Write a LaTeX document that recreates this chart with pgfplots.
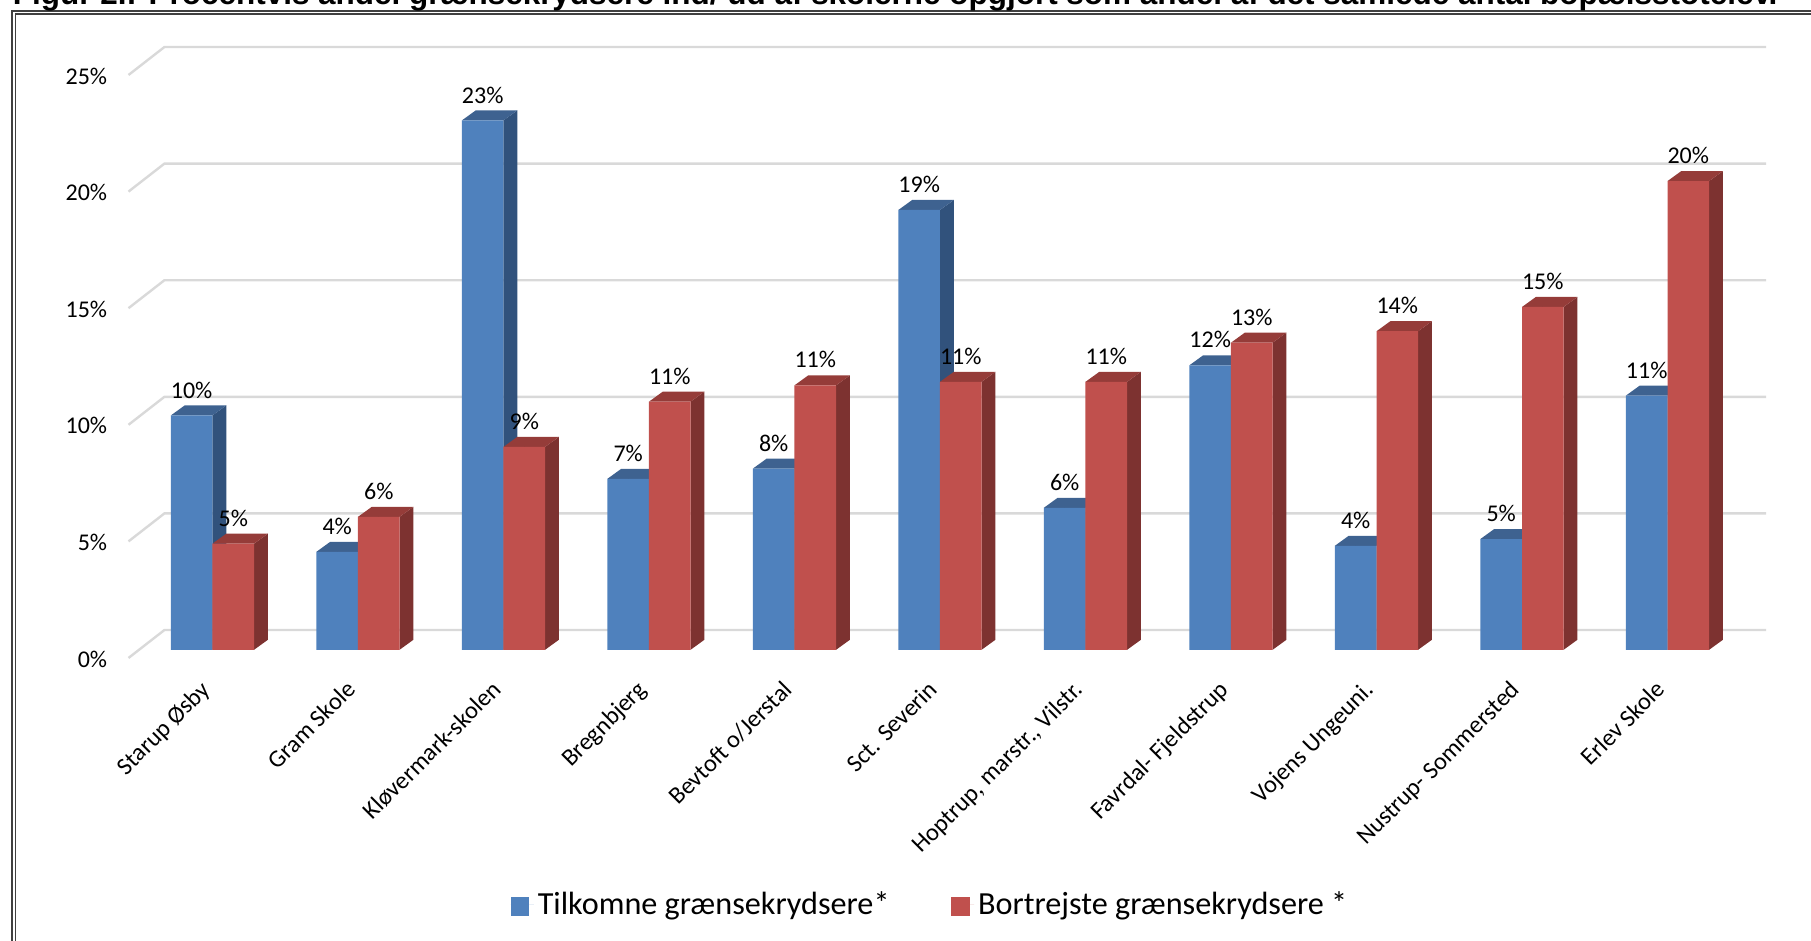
\documentclass[border=0pt]{standalone}
\usepackage{fontspec}
\setmainfont{Carlito}
\newfontfamily\titlefont{Liberation Sans}
\usepackage{pgfplots}
\usepackage{pgfplotstable}
\pgfplotsset{compat=1.18}

\definecolor{blueF}{HTML}{4F81BD}
\definecolor{blueS}{HTML}{31527C}
\definecolor{blueT}{HTML}{3E6290}
\definecolor{redF}{HTML}{C0504D}
\definecolor{redS}{HTML}{7D3230}
\definecolor{redT}{HTML}{953C39}
\definecolor{gridc}{HTML}{D9D9D9}

\pgfplotstableread{
x blue red
0 10.05 4.55
1 4.20 5.70
2 22.70 8.70
3 7.33 10.64
4 7.77 11.34
5 18.86 11.49
6 6.09 11.49
7 12.20 13.17
8 4.46 13.66
9 4.75 14.70
10 10.90 20.10
}\schools

% side and top face of a bar, origin at top centre of the front face
\newcommand\boxfaces[2]{%
  \fill[#1] (10.4pt,0pt) -- (17.3pt,5pt) -- (17.3pt,{5-\barh*1pt}) -- (10.4pt,{-\barh*1pt}) -- cycle;
  \fill[#2] (-10.4pt,0pt) -- (-3.5pt,5pt) -- (17.3pt,5pt) -- (10.4pt,0pt) -- cycle;
}
\pgfplotsset{
  faces/.style n args={3}{
    forget plot, only marks, scatter, mark=*, mark size=0pt, draw=none,
    xshift=#1, yshift=4.1pt,
    visualization depends on={rawy*11.66 \as \barh},
    scatter/@pre marker code/.code={\boxfaces{#2}{#3}},
    scatter/@post marker code/.code={},
  },
  front/.style n args={2}{
    forget plot, on layer=axis foreground,
    ybar, bar width=20.8pt, bar shift=#1, yshift=4.1pt, fill=#2, draw=none,
    nodes near coords={\pgfmathprintnumber[fixed,precision=0]{\pgfplotspointmeta}\%},
    every node near coord/.append style={font=\fontsize{12}{14}\selectfont, text=black, anchor=south, inner sep=0pt, yshift=8.4pt, xshift=#1},
  },
  backline/.style={forget plot, gridc, line width=1.2pt, no marks, on layer=axis background},
}

\begin{document}
\begin{tikzpicture}
\begin{axis}[
  at={(0pt,0pt)}, anchor=south west,
  set layers=standard,
  scale only axis, width=818.75pt, height=291.5pt,
  clip=false,
  xmin=-0.577, xmax=10.677, ymin=0, ymax=25,
  axis line style={draw=none},
  major tick length=0pt,
  xtick={0,...,10},
  xticklabels={Starup Øsby,Gram Skole,Kløvermark-skolen,Bregnbjerg,Bevtoft o/Jerstal,Sct. Severin,{Hoptrup, marstr., Vilstr.},Favrdal- Fjeldstrup,Vojens Ungeuni.,Nustrup- Sommersted,Erlev Skole},
  xticklabel style={font=\fontsize{12.2}{14}\selectfont, rotate=45, anchor=north east, inner sep=0pt, yshift=-2.7pt, xshift=-12pt},
  ytick={0,5,...,25},
  yticklabel={\pgfmathprintnumber{\tick}\%},
  yticklabel style={font=\fontsize{12}{14}\selectfont, anchor=east, inner sep=0pt, xshift=-10.5pt, yshift=-0.5pt},
  /pgf/number format/assume math mode=true,
  legend columns=2,
  legend cell align=left,
  legend style={at={(0.490,-0.4228)}, anchor=center, draw=none, fill=none, font=\fontsize{16.1}{18}\selectfont,
    /tikz/column 2/.style={column sep=28.7pt}},
  legend image code/.code={\fill[#1] (0pt,-5.8pt) rectangle (9.3pt,3.5pt); \path (0pt,0pt) -- (11.6pt,0pt);},
]
% back wall lines: data level, floor depth
\addplot[backline] coordinates {(-0.577,0) (-0.33,1.2) (10.677,1.2)};
\addplot[backline] coordinates {(-0.577,5) (-0.33,6.2) (10.677,6.2)};
\addplot[backline] coordinates {(-0.577,10) (-0.33,11.2) (10.677,11.2)};
\addplot[backline] coordinates {(-0.577,15) (-0.33,16.2) (10.677,16.2)};
\addplot[backline] coordinates {(-0.577,20) (-0.33,21.2) (10.677,21.2)};
\addplot[backline] coordinates {(-0.577,25) (-0.33,26.2) (10.677,26.2)};

\addplot[faces={-10.4pt}{blueS}{blueT}] table[x=x,y=blue]{\schools};
\addplot[faces={10.4pt}{redS}{redT}] table[x=x,y=red]{\schools};
\addplot[front={-10.4pt}{blueF}] table[x=x,y=blue]{\schools};
\addplot[front={10.4pt}{redF}] table[x=x,y=red]{\schools};

\addlegendimage{fill=blueF,draw=none}
\addlegendentry{Tilkomne grænsekrydsere*}
\addlegendimage{fill=redF,draw=none}
\addlegendentry{Bortrejste grænsekrydsere *}
\end{axis}
% frame and the cut-off heading
\draw[black!75,line width=0.7pt] (-58.2pt,-141.5pt) -- (-58.2pt,323.5pt) -- (841.25pt,323.5pt);
\draw[black!75,line width=0.7pt] (-56.6pt,-141.5pt) -- (-56.6pt,322pt) -- (841.25pt,322pt);
\node[anchor=base west,inner sep=0pt,font=\titlefont\bfseries\fontsize{15.73}{16}\selectfont] at (-58pt,326.5pt) {Figur 2.: Procentvis andel grænsekrydsere ind/ ud af skolerne opgjort som andel af det samlede antal bopælsstotelev.};
\pgfresetboundingbox
\useasboundingbox (-64.25pt,-141.5pt) rectangle (841.25pt,329pt);
\end{tikzpicture}
\end{document}
